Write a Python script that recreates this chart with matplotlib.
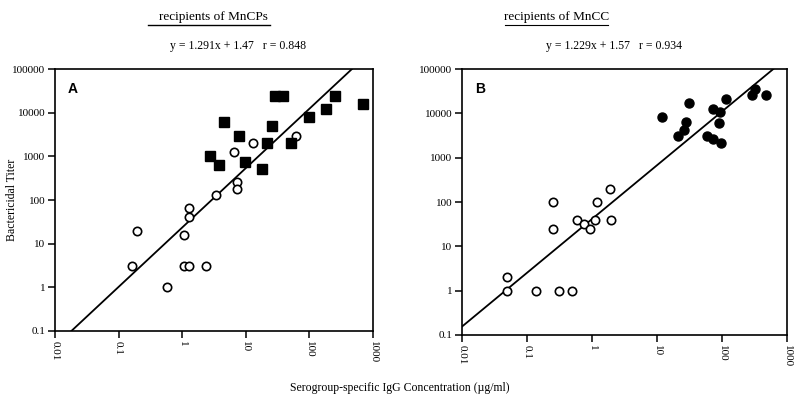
import numpy as np
import matplotlib
matplotlib.use("Agg")
import matplotlib.pyplot as plt
from matplotlib.lines import Line2D

plt.rcParams["font.family"] = ["Liberation Serif", "DejaVu Serif"]

# panel A - recipients of MnCPs
a_open_x = [0.197, 0.16, 0.58, 1.08, 1.28, 2.34, 1.08, 1.28, 1.28, 3.4, 7.2, 7.2, 6.6, 13, 62]
a_open_y = [20, 3, 1, 3, 3, 3, 16, 40, 64, 128, 256, 180, 1280, 2000, 3000]
a_fill_x = [2.73, 3.83, 4.5, 7.9, 9.7, 18, 21.5, 25.5, 28.8, 38.5, 52, 100, 180, 250, 700]
a_fill_y = [1000, 640, 6000, 3000, 750, 500, 2000, 5000, 24000, 24000, 2000, 8000, 12200, 24000, 16200]
a_fit = (1.36, 1.37)   # slope, intercept in log10 units, as drawn

# panel B - recipients of MnCC
b_open_x = [0.05, 0.05, 0.14, 0.31, 0.5, 0.25, 0.25, 0.59, 0.74, 0.92, 1.11, 1.19, 1.94, 1.9]
b_open_y = [2, 1, 1, 1, 1, 24, 100, 40, 32, 24, 40, 100, 40, 200]
b_fill_x = [11.9, 21, 26, 28, 31, 59, 73, 73, 90, 93, 97, 117, 290, 325, 480]
b_fill_y = [8300, 3100, 4200, 6400, 17000, 3100, 2600, 12800, 6200, 10700, 2100, 21500, 26000, 35000, 26000]
b_fit = (1.213, 1.616)

xticks = [0.01, 0.1, 1, 10, 100, 1000]
xticklabels = ["0.01", "0.1", "1", "10", "100", "1000"]
yticks = [0.1, 1, 10, 100, 1000, 10000, 100000]
yticklabels = ["0.1", "1", "10", "100", "1000", "10000", "100000"]


def setup(ax, letter):
    ax.set_xscale("log")
    ax.set_yscale("log")
    ax.set_xlim(0.01, 1000)
    ax.set_ylim(0.1, 100000)
    ax.set_xticks(xticks)
    ax.set_xticklabels(xticklabels, rotation=-90, fontsize=8)
    ax.set_yticks(yticks)
    ax.set_yticklabels(yticklabels, fontsize=8)
    ax.minorticks_off()
    ax.tick_params(length=5, width=1.1, pad=2)
    for s in ax.spines.values():
        s.set_linewidth(1.2)
    ax.text(0.04, 0.95, letter, transform=ax.transAxes, ha="left", va="top",
            fontsize=10, fontweight="bold", family="Liberation Sans")


def fit_line(ax, fit):
    lx = np.linspace(-2, 3, 50)
    ax.plot(10 ** lx, 10 ** (fit[0] * lx + fit[1]), color="black", lw=1.3)


fig = plt.figure(figsize=(8, 4.04), dpi=100)
ax_a = fig.add_axes([0.06875, 0.1807, 0.3975, 0.6485])
ax_b = fig.add_axes([0.5775, 0.1708, 0.40625, 0.6584])

setup(ax_a, "A")
fit_line(ax_a, a_fit)
ax_a.plot(a_open_x, a_open_y, "o", ms=6, mfc="white", mec="black", mew=1.2, ls="none")
ax_a.plot(a_fill_x, a_fill_y, "s", ms=6.5, mfc="black", mec="black", ls="none")
ax_a.set_ylabel("Bactericidal Titer", fontsize=8.5)
ax_a.yaxis.set_label_coords(-0.115, 0.5)

setup(ax_b, "B")
fit_line(ax_b, b_fit)
ax_b.plot(b_open_x, b_open_y, "o", ms=6, mfc="white", mec="black", mew=1.2, ls="none")
ax_b.plot(b_fill_x, b_fill_y, "o", ms=6.5, mfc="black", mec="black", ls="none")

# titles with underline
fig.text(213 / 800, 1 - 17 / 404, "recipients of MnCPs", ha="center", va="center", fontsize=9.5)
fig.add_artist(Line2D([148 / 800, 270 / 800], [1 - 25 / 404] * 2, color="black", lw=1))
fig.text(557 / 800, 1 - 17 / 404, "recipients of MnCC", ha="center", va="center", fontsize=9.5)
fig.add_artist(Line2D([505 / 800, 608 / 800], [1 - 25 / 404] * 2, color="black", lw=0.8))

fig.text(238 / 800, 1 - 46 / 404, "y = 1.291x + 1.47   r = 0.848", ha="center", va="center", fontsize=8.5)
fig.text(614 / 800, 1 - 46 / 404, "y = 1.229x + 1.57   r = 0.934", ha="center", va="center", fontsize=8.5)

fig.text(0.5, 1 - 388 / 404, "Serogroup-specific IgG Concentration (\u00b5g/ml)",
         ha="center", va="center", fontsize=8.5)

fig.savefig("out.png", dpi=100)
plt.close(fig)
